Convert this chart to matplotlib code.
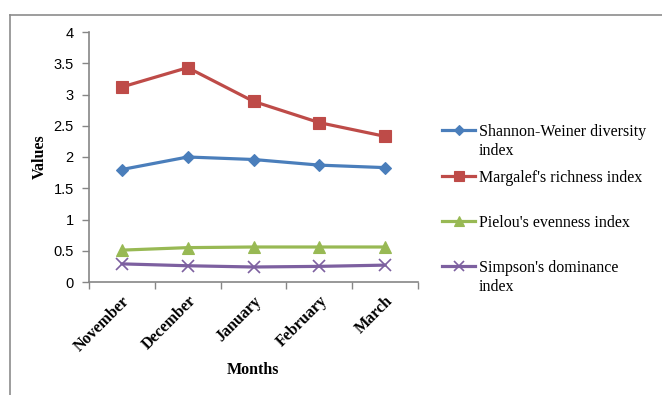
import matplotlib
matplotlib.use("Agg")
import matplotlib.pyplot as plt
from matplotlib.lines import Line2D
from matplotlib.ticker import FixedLocator, FuncFormatter

months = ["November", "December", "January", "February", "March"]
shannon = [1.80, 2.00, 1.96, 1.87, 1.83]
margalef = [3.12, 3.43, 2.89, 2.55, 2.33]
pielou = [0.51, 0.55, 0.56, 0.56, 0.56]
simpson = [0.29, 0.26, 0.24, 0.25, 0.27]

series_labels = ["Shannon-Weiner diversity\nindex",
                 "Margalef's richness index",
                 "Pielou's evenness index",
                 "Simpson's dominance\nindex"]
series_values = [shannon, margalef, pielou, simpson]
colors = ["#4A7EBB", "#BE4B48", "#98B954", "#7D60A0"]
markers = ["D", "s", "^", "x"]
msizes = [5.8, 8.0, 8.0, 8.5]

W, H = 662, 395
fig = plt.figure(figsize=(W / 100, H / 100), dpi=100)

def fx(px):
    return px / W

def fy(py):
    return 1 - py / H

ax = fig.add_axes([fx(89), fy(282), fx(418 - 89), (282 - 32) / H])

x = list(range(len(months)))
for vals, c, m, ms in zip(series_values, colors, markers, msizes):
    ax.plot(x, vals, color=c, lw=2.3, marker=m, ms=ms, mfc=c, mec=c,
            mew=1.2 if m == "x" else 0.8, solid_capstyle="round")

ax.set_xlim(-0.5, len(months) - 0.5)
ax.set_ylim(0, 4)

yt = [i * 0.5 for i in range(9)]
ax.set_yticks(yt)
ax.yaxis.set_major_formatter(FuncFormatter(lambda v, p: f"{v:g}"))

ax.set_xticks(x)
ax.set_xticklabels(months, rotation=45, ha="right", rotation_mode="anchor",
                   fontfamily="Liberation Serif", fontweight="bold", fontsize=11.5)
ax.xaxis.set_minor_locator(FixedLocator([i - 0.5 for i in range(len(months) + 1)]))
ax.tick_params(axis="x", which="major", length=0, pad=8)
ax.tick_params(axis="x", which="minor", length=5, width=1, color="#868686")
ax.tick_params(axis="y", which="major", length=5, width=1, color="#868686", pad=6,
               labelsize=10.5)
for lab in ax.get_yticklabels():
    lab.set_fontfamily("Liberation Sans")

for s in ["top", "right"]:
    ax.spines[s].set_visible(False)
for s in ["left", "bottom"]:
    ax.spines[s].set_color("#868686")
    ax.spines[s].set_linewidth(1.2)

fig.text(fx(253), fy(370), "Months", ha="center", va="center",
         fontfamily="Liberation Serif", fontweight="bold", fontsize=11.5)
fig.text(fx(40), fy(157), "Values", ha="center", va="center", rotation=90,
         fontfamily="Liberation Serif", fontweight="bold", fontsize=11.5)

# legend drawn by hand so the symbol sits on the first text line
rows = [130, 176, 221, 266]
for lab, c, m, ms, ry in zip(series_labels, colors, markers, msizes, rows):
    fig.add_artist(Line2D([fx(442), fx(475)], [fy(ry), fy(ry)], color=c, lw=2.3,
                          transform=fig.transFigure))
    fig.add_artist(Line2D([fx(458.5)], [fy(ry)], color=c, marker=m, ms=ms * 0.85,
                          mfc=c, mec=c, mew=1.2 if m == "x" else 0.8,
                          transform=fig.transFigure))
    fig.text(fx(479), fy(ry - 6), lab, ha="left", va="top",
             fontfamily="Liberation Serif", fontsize=11.5, linespacing=1.22)

# chart frame
frame_c = "#8C8C8C"
fig.add_artist(Line2D([fx(10), fx(662)], [fy(15), fy(15)], color=frame_c, lw=1.2,
                      transform=fig.transFigure))
fig.add_artist(Line2D([fx(10), fx(10)], [fy(15), fy(395)], color=frame_c, lw=1.2,
                      transform=fig.transFigure))

fig.savefig("out.png", dpi=100)
